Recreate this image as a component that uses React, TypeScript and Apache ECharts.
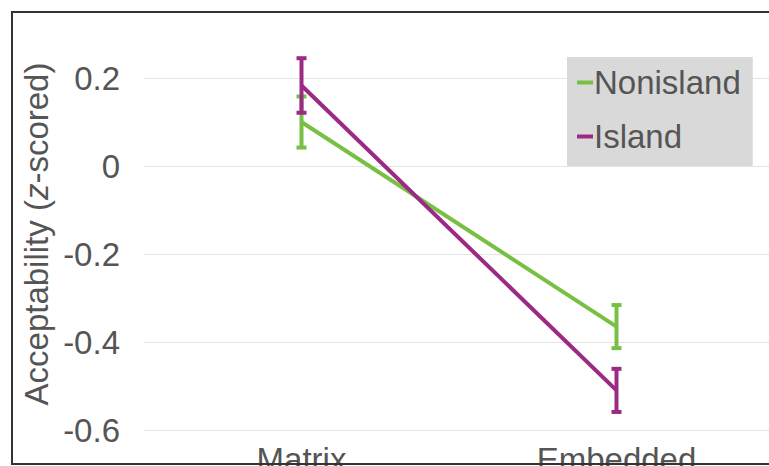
import React, { useEffect, useRef } from "react";
import * as echarts from "echarts";

const categories = ["Matrix", "Embedded"];
const nonislandMeans = [0.1, -0.365];
const nonislandErr = [0.058, 0.049];
const islandMeans = [0.183, -0.51];
const islandErr = [0.062, 0.049];
const yTicks = [-0.6, -0.4, -0.2, 0, 0.2];

const GREEN = "#78c043";
const PURPLE = "#9b2a84";
const FONT = "Liberation Sans";
const TEXT = "#555555";
const FS = 33;

function errData(means: number[], errs: number[]) {
  return means.map((m, i) => [i, m - errs[i], m + errs[i]]);
}

function errRender(color: string) {
  return (params: any, api: any) => {
    const x = api.value(0);
    const lo = api.coord([x, api.value(1)]);
    const hi = api.coord([x, api.value(2)]);
    const cap = 5;
    const style = { stroke: color, lineWidth: 4, lineCap: "butt" };
    return {
      type: "group",
      children: [
        { type: "line", shape: { x1: lo[0], y1: lo[1], x2: hi[0], y2: hi[1] }, style },
        { type: "line", shape: { x1: lo[0] - cap, y1: lo[1], x2: lo[0] + cap, y2: lo[1] }, style },
        { type: "line", shape: { x1: hi[0] - cap, y1: hi[1], x2: hi[0] + cap, y2: hi[1] }, style },
      ],
    };
  };
}

export default function App() {
  const ref = useRef<HTMLDivElement>(null);
  useEffect(() => {
    document.body.style.margin = "0";
    document.body.style.overflow = "hidden";
    const chart = echarts.init(ref.current!, null, { renderer: "svg" });
    chart.setOption({
      animation: false,
      backgroundColor: "#ffffff",
      textStyle: { fontFamily: FONT },
      grid: { left: 144, top: 78, width: 630, bottom: 36, outerBoundsMode: "none", containLabel: false },
      legend: {
        orient: "vertical",
        left: 567,
        top: 57,
        padding: [9, 12, 13, 10],
        itemGap: 21,
        itemWidth: 16,
        itemHeight: 4,
        icon: "rect",
        backgroundColor: "#d9d9d9",
        textStyle: { fontSize: FS, color: TEXT, fontFamily: FONT, padding: [0, 0, 0, -4] },
        data: ["Nonisland", "Island"],
      },
      xAxis: {
        type: "category",
        data: categories,
        boundaryGap: true,
        axisLine: { show: false },
        axisTick: { show: false },
        axisLabel: { fontSize: FS, color: TEXT, margin: 13, fontFamily: FONT },
      },
      yAxis: {
        type: "value",
        min: yTicks[0],
        max: yTicks[yTicks.length - 1],
        interval: 0.2,
        axisLine: { show: false },
        axisTick: { show: false },
        splitLine: { lineStyle: { color: "#e4e4e4", width: 1 } },
        axisLabel: {
          fontSize: FS,
          color: TEXT,
          margin: 24,
          fontFamily: FONT,
          formatter: (v: number) => {
            const r = Math.round(v * 10) / 10;
            return r === 0 ? "0" : String(r);
          },
        },
      },
      series: [
        {
          name: "Nonisland",
          type: "line",
          data: nonislandMeans,
          symbol: "none",
          clip: false,
          color: GREEN,
          lineStyle: { width: 4, color: GREEN },
        },
        {
          name: "Island",
          type: "line",
          data: islandMeans,
          symbol: "none",
          clip: false,
          color: PURPLE,
          lineStyle: { width: 4, color: PURPLE },
        },
        {
          name: "NonislandErr",
          type: "custom",
          data: errData(nonislandMeans, nonislandErr),
          encode: { x: 0, y: [1, 2] },
          renderItem: errRender(GREEN),
          z: 3,
        },
        {
          name: "IslandErr",
          type: "custom",
          data: errData(islandMeans, islandErr),
          encode: { x: 0, y: [1, 2] },
          renderItem: errRender(PURPLE),
          z: 4,
        },
      ],
      graphic: [
        {
          type: "text",
          x: 36,
          y: 234,
          rotation: Math.PI / 2,
          style: {
            text: "{n|Acceptability (}{i|z}{n|-scored)}",
            align: "center",
            verticalAlign: "middle",
            rich: {
              n: { fontSize: FS, fill: TEXT, fontFamily: FONT },
              i: { fontSize: FS, fill: TEXT, fontFamily: FONT, fontStyle: "italic" },
            },
          },
        },
        {
          type: "rect",
          z: 100,
          shape: { x: 12, y: 12, width: 800, height: 452 },
          style: { fill: "none", stroke: "#333333", lineWidth: 2 },
        },
      ],
    });
    return () => chart.dispose();
  }, []);
  return <div ref={ref} style={{ position: "fixed", left: 0, top: 0, width: 769, height: 466 }} />;
}
